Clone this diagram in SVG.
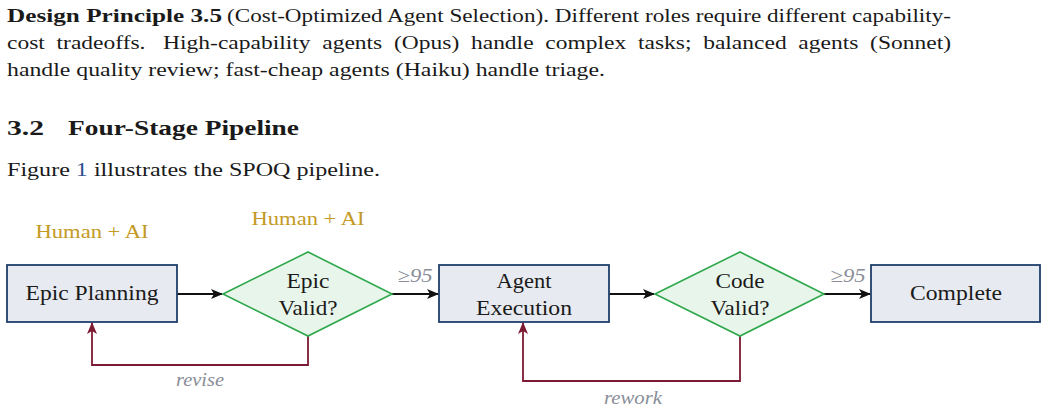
<svg xmlns="http://www.w3.org/2000/svg" width="1048" height="411" viewBox="0 0 1048 411">
<style>
.t{font-family:"Liberation Serif","DejaVu Serif",serif;fill:#1a1a1a}
.p{font-size:19.5px}
.b{font-weight:bold}
.box{fill:#e7eaf0;stroke:#1f3f6b;stroke-width:1.8}
.dia{fill:#e8f5ea;stroke:#2ea84a;stroke-width:1.6}
.nt{font-family:"Liberation Serif","DejaVu Serif",serif;font-size:21px;fill:#1a1a1a;text-anchor:middle}
.gold{font-family:"Liberation Serif","DejaVu Serif",serif;font-size:19.5px;fill:#c49a26;text-anchor:middle}
.gray{font-family:"Liberation Serif","DejaVu Serif",serif;font-size:19.5px;fill:#8a8e98;font-style:italic;text-anchor:middle}
.fl{fill:none;stroke:#111;stroke-width:1.8}
.rw{fill:none;stroke:#7d1a33;stroke-width:1.8}
</style>
<defs>
<marker id="ab" viewBox="0 0 12 10" refX="11" refY="5" markerWidth="12" markerHeight="10" markerUnits="userSpaceOnUse" orient="auto">
<path d="M0,0 L12,5 L0,10 L3,5 Z" fill="#111"/>
</marker>
<marker id="ar" viewBox="0 0 12 10" refX="11" refY="5" markerWidth="12" markerHeight="10" markerUnits="userSpaceOnUse" orient="auto">
<path d="M0,0 L12,5 L0,10 L3,5 Z" fill="#7d1a33"/>
</marker>
</defs>
<g id="text">
<text class="t p b" x="7" y="22" textLength="215" lengthAdjust="spacingAndGlyphs">Design Principle 3.5</text>
<text class="t p" x="227" y="22" textLength="724" lengthAdjust="spacingAndGlyphs">(Cost-Optimized Agent Selection). Different roles require different capability-</text>
<text class="t p" x="7" y="49" textLength="944" lengthAdjust="spacingAndGlyphs" xml:space="preserve">cost  tradeoffs.   High-capability  agents  (Opus)  handle  complex  tasks;  balanced  agents  (Sonnet)</text>
<text class="t p" x="7" y="76" textLength="598" lengthAdjust="spacingAndGlyphs">handle quality review; fast-cheap agents (Haiku) handle triage.</text>
<text class="t b" x="7" y="135" font-size="21" textLength="37" lengthAdjust="spacingAndGlyphs">3.2</text>
<text class="t b" x="68" y="135" font-size="21" textLength="231" lengthAdjust="spacingAndGlyphs">Four-Stage Pipeline</text>
<text class="t p" x="7" y="176" textLength="373" lengthAdjust="spacingAndGlyphs">Figure <tspan fill="#2c4f8c">1</tspan> illustrates the SPOQ pipeline.</text>
</g>
<g id="connectors">
<line class="fl" x1="177" y1="294" x2="222" y2="294" marker-end="url(#ab)"/>
<line class="fl" x1="392" y1="294" x2="438" y2="294" marker-end="url(#ab)"/>
<line class="fl" x1="609" y1="294" x2="654" y2="294" marker-end="url(#ab)"/>
<line class="fl" x1="824" y1="294" x2="870" y2="294" marker-end="url(#ab)"/>
<polyline class="rw" points="308,336 308,365 92,365 92,323" marker-end="url(#ar)"/>
<polyline class="rw" points="740,336 740,381 523,381 523,323" marker-end="url(#ar)"/>
<text class="gray" x="415" y="282" textLength="35" lengthAdjust="spacingAndGlyphs">≥95</text>
<text class="gray" x="848" y="282" textLength="35" lengthAdjust="spacingAndGlyphs">≥95</text>
<text class="gray" x="200" y="386" textLength="48" lengthAdjust="spacingAndGlyphs">revise</text>
<text class="gray" x="633" y="404" textLength="58" lengthAdjust="spacingAndGlyphs">rework</text>
</g>
<g id="epic-planning">
<rect class="box" x="7" y="265" width="170" height="57"/>
<text class="nt" x="92" y="300" textLength="133" lengthAdjust="spacingAndGlyphs">Epic Planning</text>
<text class="gold" x="92" y="238" textLength="113" lengthAdjust="spacingAndGlyphs">Human + AI</text>
</g>
<g id="epic-valid">
<polygon class="dia" points="223,294 308,252 392,294 308,336"/>
<text class="nt" x="308" y="288" textLength="43" lengthAdjust="spacingAndGlyphs">Epic</text>
<text class="nt" x="308" y="315" textLength="59" lengthAdjust="spacingAndGlyphs">Valid?</text>
<text class="gold" x="308" y="225" textLength="113" lengthAdjust="spacingAndGlyphs">Human + AI</text>
</g>
<g id="agent-execution">
<rect class="box" x="439" y="265" width="170" height="57"/>
<text class="nt" x="524" y="288" textLength="55" lengthAdjust="spacingAndGlyphs">Agent</text>
<text class="nt" x="524" y="315" textLength="96" lengthAdjust="spacingAndGlyphs">Execution</text>
</g>
<g id="code-valid">
<polygon class="dia" points="655,294 740,252 824,294 740,336"/>
<text class="nt" x="740" y="288" textLength="49" lengthAdjust="spacingAndGlyphs">Code</text>
<text class="nt" x="740" y="315" textLength="59" lengthAdjust="spacingAndGlyphs">Valid?</text>
</g>
<g id="complete">
<rect class="box" x="871" y="265" width="169" height="57"/>
<text class="nt" x="956" y="300" textLength="92" lengthAdjust="spacingAndGlyphs">Complete</text>
</g>
</svg>
